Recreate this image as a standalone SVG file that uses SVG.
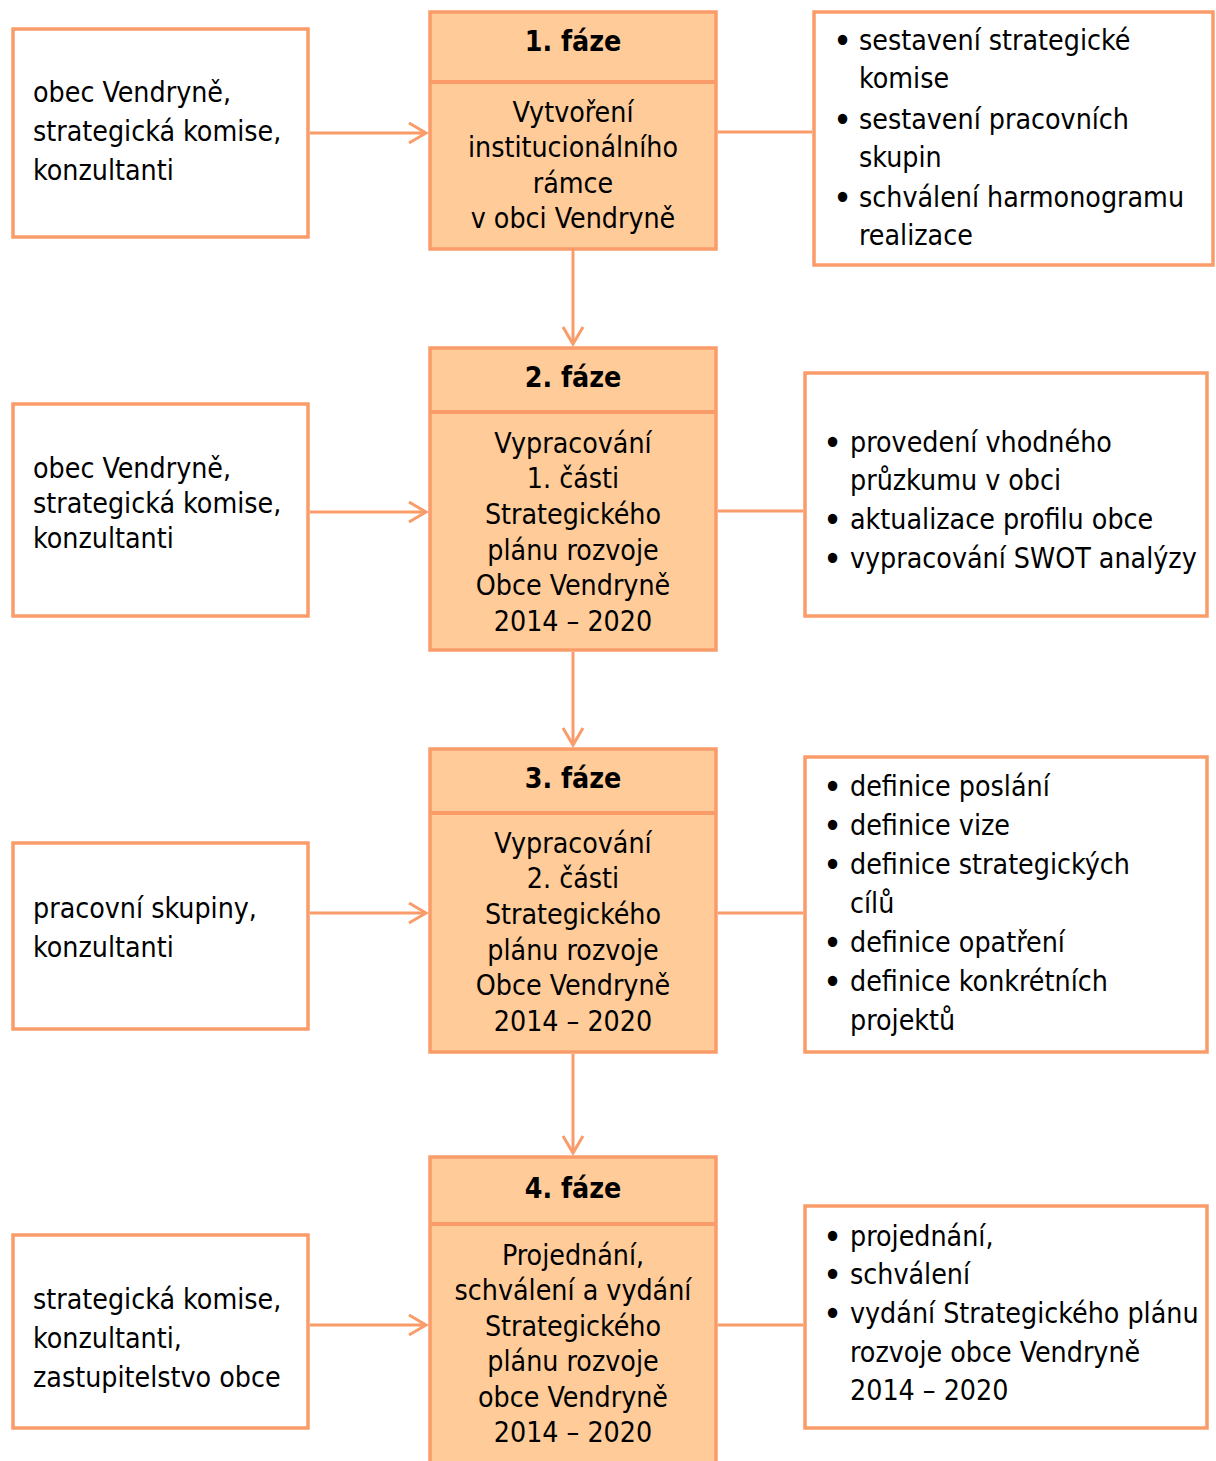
<svg xmlns="http://www.w3.org/2000/svg" width="1216" height="1461" viewBox="0 0 1216 1461">
<style>
.box{fill:#fff;stroke:#FA9C69;stroke-width:3.5}
.phase{fill:#FFCB99;stroke:#FA9C69;stroke-width:3.5}
.div{stroke:#FA9C69;stroke-width:4}
.con{stroke:#FA9C69;stroke-width:3;fill:none}
text{font-family:"DejaVu Sans Condensed","Liberation Sans",sans-serif;font-size:28.3px;fill:#000}
.c{text-anchor:middle}
.b{font-weight:bold}
.u{font-size:36px}
</style>
<defs>
<marker id="arr" markerUnits="userSpaceOnUse" markerWidth="24" markerHeight="24" refX="19" refY="12" orient="auto" viewBox="0 0 24 24">
<path d="M2,2 L19,12 L2,22" fill="none" stroke="#FA9C69" stroke-width="3"/>
</marker>
</defs>
<g id="connectors">
<line class="con" x1="310" y1="133" x2="426" y2="133" marker-end="url(#arr)"/>
<line class="con" x1="310" y1="512" x2="426" y2="512" marker-end="url(#arr)"/>
<line class="con" x1="310" y1="913" x2="426" y2="913" marker-end="url(#arr)"/>
<line class="con" x1="310" y1="1325" x2="426" y2="1325" marker-end="url(#arr)"/>
<line class="con" x1="718" y1="132" x2="812" y2="132"/>
<line class="con" x1="718" y1="511" x2="803" y2="511"/>
<line class="con" x1="718" y1="913" x2="803" y2="913"/>
<line class="con" x1="718" y1="1325" x2="803" y2="1325"/>
<line class="con" x1="573" y1="250" x2="573" y2="344" marker-end="url(#arr)"/>
<line class="con" x1="573" y1="652" x2="573" y2="745" marker-end="url(#arr)"/>
<line class="con" x1="573" y1="1054" x2="573" y2="1153" marker-end="url(#arr)"/>
</g>
<g id="left1">
<rect class="box" x="13" y="29" width="295" height="208"/>
<text x="33" y="102">obec Vendryně,</text>
<text x="33" y="141">strategická komise,</text>
<text x="33" y="180">konzultanti</text>
</g>
<g id="phase1">
<rect class="phase" x="430" y="12" width="286" height="237"/>
<line class="div" x1="430" y1="82" x2="716" y2="82"/>
<text class="c b" x="573" y="51">1. fáze</text>
<text class="c" x="573" y="122">Vytvoření</text>
<text class="c" x="573" y="157">institucionálního</text>
<text class="c" x="573" y="193">rámce</text>
<text class="c" x="573" y="228">v obci Vendryně</text>
</g>
<g id="right1">
<rect class="box" x="814" y="12" width="399" height="253"/>
<text class="u" x="833" y="53">•</text><text x="859" y="50">sestavení strategické</text>
<text x="859" y="88">komise</text>
<text class="u" x="833" y="132">•</text><text x="859" y="129">sestavení pracovních</text>
<text x="859" y="167">skupin</text>
<text class="u" x="833" y="210">•</text><text x="859" y="207">schválení harmonogramu</text>
<text x="859" y="245">realizace</text>
</g>
<g id="left2">
<rect class="box" x="13" y="404" width="295" height="212"/>
<text x="33" y="478">obec Vendryně,</text>
<text x="33" y="513">strategická komise,</text>
<text x="33" y="548">konzultanti</text>
</g>
<g id="phase2">
<rect class="phase" x="430" y="348" width="286" height="302"/>
<line class="div" x1="430" y1="412" x2="716" y2="412"/>
<text class="c b" x="573" y="387">2. fáze</text>
<text class="c" x="573" y="453">Vypracování</text>
<text class="c" x="573" y="488">1. části</text>
<text class="c" x="573" y="524">Strategického</text>
<text class="c" x="573" y="560">plánu rozvoje</text>
<text class="c" x="573" y="595">Obce Vendryně</text>
<text class="c" x="573" y="631">2014 – 2020</text>
</g>
<g id="right2">
<rect class="box" x="805" y="373" width="402" height="243"/>
<text class="u" x="823" y="455">•</text><text x="850" y="452">provedení vhodného</text>
<text x="850" y="490">průzkumu v obci</text>
<text class="u" x="823" y="532">•</text><text x="850" y="529">aktualizace profilu obce</text>
<text class="u" x="823" y="571">•</text><text x="850" y="568">vypracování SWOT analýzy</text>
</g>
<g id="left3">
<rect class="box" x="13" y="843" width="295" height="186"/>
<text x="33" y="918">pracovní skupiny,</text>
<text x="33" y="957">konzultanti</text>
</g>
<g id="phase3">
<rect class="phase" x="430" y="749" width="286" height="303"/>
<line class="div" x1="430" y1="813" x2="716" y2="813"/>
<text class="c b" x="573" y="788">3. fáze</text>
<text class="c" x="573" y="853">Vypracování</text>
<text class="c" x="573" y="888">2. části</text>
<text class="c" x="573" y="924">Strategického</text>
<text class="c" x="573" y="960">plánu rozvoje</text>
<text class="c" x="573" y="995">Obce Vendryně</text>
<text class="c" x="573" y="1031">2014 – 2020</text>
</g>
<g id="right3">
<rect class="box" x="805" y="757" width="402" height="295"/>
<text class="u" x="823" y="799">•</text><text x="850" y="796">definice poslání</text>
<text class="u" x="823" y="838">•</text><text x="850" y="835">definice vize</text>
<text class="u" x="823" y="877">•</text><text x="850" y="874">definice strategických</text>
<text x="850" y="913">cílů</text>
<text class="u" x="823" y="955">•</text><text x="850" y="952">definice opatření</text>
<text class="u" x="823" y="994">•</text><text x="850" y="991">definice konkrétních</text>
<text x="850" y="1030">projektů</text>
</g>
<g id="left4">
<rect class="box" x="13" y="1235" width="295" height="193"/>
<text x="33" y="1309">strategická komise,</text>
<text x="33" y="1348">konzultanti,</text>
<text x="33" y="1387">zastupitelstvo obce</text>
</g>
<g id="phase4">
<rect class="phase" x="430" y="1157" width="286" height="320"/>
<line class="div" x1="430" y1="1224" x2="716" y2="1224"/>
<text class="c b" x="573" y="1198">4. fáze</text>
<text class="c" x="573" y="1265">Projednání,</text>
<text class="c" x="573" y="1300">schválení a vydání</text>
<text class="c" x="573" y="1336">Strategického</text>
<text class="c" x="573" y="1371">plánu rozvoje</text>
<text class="c" x="573" y="1407">obce Vendryně</text>
<text class="c" x="573" y="1442">2014 – 2020</text>
</g>
<g id="right4">
<rect class="box" x="805" y="1206" width="402" height="222"/>
<text class="u" x="823" y="1249">•</text><text x="850" y="1246">projednání,</text>
<text class="u" x="823" y="1287">•</text><text x="850" y="1284">schválení</text>
<text class="u" x="823" y="1326">•</text><text x="850" y="1323">vydání Strategického plánu</text>
<text x="850" y="1362">rozvoje obce Vendryně</text>
<text x="850" y="1400">2014 – 2020</text>
</g>
</svg>
